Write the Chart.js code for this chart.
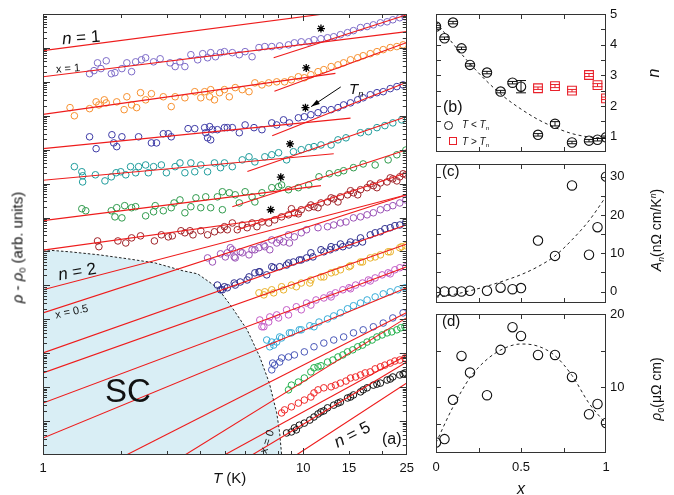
<!DOCTYPE html>
<html>
<head>
<meta charset="utf-8">
<title>Power-law analysis of the normal-state resistivity</title>
<script src="https://cdn.jsdelivr.net/npm/chart.js@4.4.1/dist/chart.umd.min.js"></script>
<style>
  body { margin: 0; background: #fff; }
  #wrap { position: relative; width: 674px; height: 495px; overflow: hidden;
          font-family: "Liberation Sans", Arial, Helvetica, sans-serif; color: #111; }
  #wrap canvas { position: absolute; top: 0; }
  .t { position: absolute; white-space: nowrap; line-height: 1; }
  .r { position: absolute; white-space: nowrap; line-height: 1; text-align: center; }
  sub, sup { font-size: 0.62em; line-height: 0; }
  sub { vertical-align: -0.3em; }
  sup { vertical-align: 0.55em; }
  .mk { position: absolute; box-sizing: border-box; }
</style>
</head>
<body>
<div id="wrap">
  <canvas id="main" width="420" height="495" style="left:0"></canvas>
  <canvas id="pb" width="254" height="495" style="left:420px"></canvas>
  <canvas id="pc" width="254" height="495" style="left:420px"></canvas>
  <canvas id="pd" width="254" height="495" style="left:420px"></canvas>

  <!-- panel (a) annotations -->
  <div class="t" style="left:62px;top:29px;font-size:17px;transform:rotate(-4deg)"><i>n</i> = 1</div>
  <div class="t" style="left:56px;top:63px;font-size:11px;transform:rotate(-4deg)">x = 1</div>
  <div class="t" style="left:58px;top:263px;font-size:17px;transform:rotate(-10deg)"><i>n</i> = 2</div>
  <div class="t" style="left:55px;top:306px;font-size:11px;transform:rotate(-12deg)">x = 0.5</div>
  <div class="t" style="left:105px;top:374px;font-size:33px">SC</div>
  <div class="r" style="left:250px;top:436px;width:34px;font-size:11px;transform:rotate(-72deg)">x = 0</div>
  <div class="r" style="left:330px;top:426px;width:44px;font-size:17px;transform:rotate(-27deg)"><i>n</i> = 5</div>
  <div class="t" style="left:382px;top:431px;font-size:16px">(a)</div>
  <div class="t" style="left:349px;top:81px;font-size:15px"><i>T</i><sub><i>n</i></sub></div>
  <div class="t" style="left:213px;top:470px;font-size:15px"><i>T</i> (K)</div>
  <div class="r" style="left:-83px;top:240px;width:200px;font-size:15px;transform:rotate(-90deg)"><i>ρ</i> - <i>ρ</i><sub>0</sub> (arb. units)</div>

  <!-- right panels -->
  <div class="t" style="left:443px;top:99px;font-size:16px">(b)</div>
  <span class="mk" style="left:444px;top:121px;width:9px;height:9px;border:1px solid #111;border-radius:50%"></span>
  <div class="t" style="left:462px;top:120px;font-size:10px"><i>T</i> &lt; <i>T</i><sub>n</sub></div>
  <span class="mk" style="left:449px;top:137px;width:8px;height:8px;border:1px solid #e8202a"></span>
  <div class="t" style="left:462px;top:137px;font-size:10px"><i>T</i> &gt; <i>T</i><sub>n</sub></div>
  <div class="t" style="left:442px;top:163px;font-size:15px">(c)</div>
  <div class="t" style="left:442px;top:313px;font-size:15px">(d)</div>
  <div class="r" style="left:634px;top:65px;width:40px;font-size:16px;transform:rotate(-90deg)"><i>n</i></div>
  <div class="r" style="left:591px;top:223px;width:130px;font-size:14px;transform:rotate(-90deg)"><i>A</i><sub><i>n</i></sub>(nΩ cm/K<sup><i>n</i></sup>)</div>
  <div class="r" style="left:606px;top:382px;width:100px;font-size:14px;transform:rotate(-90deg)"><i>ρ</i><sub>0</sub>(μΩ cm)</div>
  <div class="r" style="left:511px;top:481px;width:20px;font-size:16px"><i>x</i></div>
</div>

<script>
// Panel (a): T in K (log axis), rho - rho0 in decades (arb. units), offset per composition x.
const rhoX100 = [[1.51,11.24],[1.57,11.33],[1.62,11.56],[1.67,11.39],[1.75,11.62],[1.83,11.24],[1.89,11.27],[2.01,11.39],[2.10,11.56],[2.19,11.30],[2.27,11.59],[2.39,11.65],[2.48,11.71],[2.66,11.59],[2.82,11.68],[3.08,11.56],[3.22,11.45],[3.36,11.59],[3.51,11.45],[3.70,11.80],[3.93,11.65],[4.11,11.83],[4.29,11.71],[4.41,11.86],[4.60,11.74],[4.81,11.86],[4.98,11.89],[5.34,11.86],[5.68,11.80],[5.98,11.89],[6.36,11.74],[6.76,12.01],[7.12,12.04],[7.57,12.04],[8.12,12.06],[8.78,12.09],[9.25,12.15],[9.83,12.18],[10.5,12.18],[11.0,12.24],[11.7,12.27],[12.4,12.30],[13.1,12.33],[13.9,12.39],[14.8,12.45],[15.6,12.51],[16.6,12.60],[17.6,12.63],[18.6,12.68],[19.8,12.74],[21.0,12.77],[22.1,12.83],[23.5,12.89],[24.6,12.92]];
const rhoX095 = [[1.27,10.24],[1.32,10.00],[1.51,10.21],[1.60,10.41],[1.64,10.32],[1.72,10.47],[1.75,10.38],[1.92,10.41],[2.05,10.18],[2.10,10.56],[2.19,10.32],[2.29,10.24],[2.37,10.68],[2.48,10.47],[2.61,10.65],[2.90,10.56],[3.11,10.27],[3.22,10.56],[3.51,10.53],[3.83,10.71],[4.04,10.53],[4.18,10.71],[4.37,10.56],[4.41,10.77],[4.56,10.47],[4.77,10.68],[4.98,10.77],[5.20,10.56],[5.48,10.83],[5.83,10.77],[6.19,10.71],[6.52,10.97],[6.94,10.91],[7.37,10.97],[7.91,11.00],[8.48,11.00],[9.01,11.06],[9.58,11.15],[10.1,11.12],[10.7,11.21],[11.4,11.30],[12.0,11.36],[12.8,11.45],[13.6,11.50],[14.3,11.56],[15.2,11.65],[16.2,11.71],[17.0,11.77],[18.1,11.83],[19.2,11.89],[20.3,11.95],[21.6,12.01],[22.9,12.04],[24.2,12.09]];
const rhoX090 = [[1.51,9.38],[1.60,9.03],[1.84,9.44],[1.87,9.20],[1.92,9.09],[2.01,9.38],[2.33,9.38],[2.61,9.20],[2.73,9.20],[2.90,9.47],[3.03,9.47],[3.11,9.38],[3.61,9.62],[3.83,9.62],[4.18,9.65],[4.22,9.50],[4.29,9.35],[4.37,9.68],[4.41,9.29],[4.48,9.59],[4.68,9.59],[4.98,9.65],[5.11,9.65],[5.34,9.65],[5.68,9.50],[5.98,9.73],[6.47,9.65],[6.94,9.59],[7.57,9.79],[7.91,9.73],[8.40,9.88],[8.85,9.79],[9.58,9.94],[10.1,9.97],[10.7,10.03],[11.4,10.09],[12.0,10.18],[12.8,10.18],[13.6,10.24],[14.3,10.32],[15.2,10.38],[16.2,10.47],[17.0,10.53],[18.1,10.62],[19.2,10.68],[20.3,10.71],[21.6,10.80],[22.9,10.86],[24.2,10.91]];
const rhoX080 = [[1.32,8.50],[1.41,8.35],[1.42,8.23],[1.42,8.05],[1.59,8.26],[1.73,8.08],[1.83,8.20],[1.91,8.32],[1.99,8.35],[2.08,8.26],[2.17,8.50],[2.27,8.32],[2.33,8.50],[2.48,8.55],[2.54,8.32],[2.66,8.50],[2.85,8.55],[2.98,8.32],[3.22,8.50],[3.36,8.61],[3.51,8.32],[3.70,8.61],[3.83,8.35],[4.04,8.55],[4.29,8.35],[4.56,8.61],[4.81,8.47],[4.98,8.61],[5.34,8.50],[5.83,8.70],[6.19,8.79],[6.52,8.64],[7.12,8.79],[7.57,8.85],[8.04,8.91],[8.63,8.70],[9.17,8.94],[9.83,9.00],[10.5,9.06],[11.0,9.09],[11.7,9.14],[12.8,9.14],[13.6,9.29],[14.6,9.35],[16.6,9.50],[17.8,9.53],[19.2,9.65],[20.6,9.71],[22.1,9.79],[23.9,9.88]];
const rhoX070 = [[1.41,7.26],[1.46,7.20],[1.83,7.20],[1.89,7.02],[1.92,7.29],[2.01,6.99],[2.06,7.35],[2.19,7.29],[2.27,7.32],[2.48,7.05],[2.66,7.17],[2.70,7.35],[2.90,7.20],[3.11,7.29],[3.19,7.43],[3.36,7.52],[3.51,7.14],[3.70,7.32],[3.87,7.58],[4.04,7.29],[4.22,7.61],[4.41,7.29],[4.68,7.61],[4.89,7.23],[4.89,7.76],[5.20,7.73],[5.48,7.67],[5.68,7.43],[5.98,7.76],[6.36,7.61],[6.52,7.46],[6.94,7.73],[7.57,7.88],[8.04,7.91],[8.26,7.96],[8.78,7.82],[9.58,7.88],[10.5,7.96],[11.5,8.20],[12.6,8.29],[13.6,8.32],[14.3,8.38],[15.6,8.47],[17.0,8.58],[18.9,8.55],[21.2,8.70],[22.9,8.85],[24.8,8.99]];
const rhoX060 = [[1.62,6.31],[1.64,6.14],[1.94,6.31],[2.08,6.25],[2.19,6.40],[2.37,6.46],[2.68,6.31],[2.85,6.49],[3.03,6.43],[3.14,6.46],[3.39,6.61],[3.51,6.55],[3.67,6.61],[3.77,6.49],[4.04,6.61],[4.29,6.49],[4.56,6.58],[4.81,6.64],[4.98,6.73],[5.11,6.64],[5.34,6.84],[5.58,6.64],[5.83,6.78],[6.09,6.70],[6.36,6.84],[6.64,6.73],[6.94,6.87],[7.37,6.84],[7.77,6.93],[8.26,7.02],[8.78,7.08],[9.01,7.26],[9.25,7.14],[9.58,7.11],[9.83,7.23],[10.5,7.29],[10.7,7.37],[11.0,7.32],[11.4,7.29],[11.7,7.43],[12.4,7.46],[12.8,7.58],[13.1,7.55],[13.6,7.46],[13.9,7.61],[14.8,7.67],[15.2,7.79],[15.6,7.73],[16.2,7.67],[16.6,7.82],[17.6,7.88],[18.1,7.99],[18.6,7.94],[19.2,7.88],[19.8,8.02],[21.0,8.05],[21.6,8.17],[22.1,8.14],[22.9,8.08],[23.5,8.20],[24.2,8.29],[24.8,8.26]];
const rhoX050 = [[4.29,5.81],[4.48,5.69],[4.81,5.93],[5.02,5.84],[5.11,5.96],[5.25,6.11],[5.34,6.05],[5.43,5.84],[5.48,5.81],[5.73,5.99],[5.83,5.96],[6.19,5.90],[6.36,6.05],[6.52,6.05],[6.76,6.11],[7.06,6.19],[7.12,6.14],[7.44,6.05],[7.57,6.34],[7.91,6.25],[8.12,6.34],[8.40,6.28],[8.78,6.49],[8.85,6.25],[9.25,6.43],[9.83,6.55],[10.3,6.64],[11.4,6.70],[12.4,6.73],[13.1,6.78],[13.9,6.84],[14.6,6.87],[15.6,6.99],[16.6,7.02],[17.6,7.08],[18.6,7.14],[19.8,7.23],[21.0,7.29],[22.1,7.35],[23.5,7.43],[24.8,7.52]];
const rhoX045 = [[4.68,5.01],[4.81,4.87],[4.89,4.87],[4.98,4.96],[5.11,4.93],[5.43,5.07],[5.48,5.01],[5.73,5.10],[6.09,5.16],[6.19,5.25],[6.52,5.37],[6.76,5.40],[6.81,5.40],[7.24,5.31],[7.57,5.55],[7.70,5.52],[8.12,5.55],[8.63,5.60],[8.78,5.66],[9.17,5.69],[9.66,5.75],[9.83,5.75],[10.3,5.81],[10.7,5.96],[10.9,5.84],[11.7,6.05],[12.0,5.99],[12.7,6.05],[12.8,6.14],[13.3,6.11],[13.9,6.22],[14.2,6.14],[15.0,6.19],[15.2,6.28],[15.9,6.25],[16.6,6.40],[16.9,6.28],[18.1,6.49],[18.9,6.55],[19.8,6.58],[20.6,6.67],[21.6,6.70],[22.5,6.76],[23.5,6.78],[24.8,6.87]];
const rhoX040 = [[6.76,4.78],[7.06,4.72],[7.12,4.81],[7.57,4.87],[7.70,4.78],[8.26,4.96],[8.40,4.87],[9.01,5.01],[9.41,4.96],[9.83,5.07],[10.6,5.07],[10.7,5.16],[11.7,5.25],[12.0,5.25],[12.8,5.37],[13.3,5.40],[13.9,5.46],[15.0,5.55],[15.2,5.58],[16.6,5.69],[16.9,5.69],[18.1,5.81],[18.9,5.84],[19.8,5.90],[21.2,5.99],[21.6,5.99],[23.5,6.11],[23.9,6.14],[24.8,6.17]];
const rhoX030 = [[6.81,3.98],[6.94,3.78],[7.06,3.78],[7.37,3.92],[7.44,4.07],[7.91,4.13],[8.04,4.04],[8.63,4.28],[8.78,4.13],[9.41,4.37],[9.83,4.28],[10.3,4.48],[10.7,4.42],[11.2,4.57],[12.0,4.63],[12.7,4.72],[12.8,4.66],[13.3,4.78],[14.2,4.87],[15.0,4.93],[15.2,4.90],[15.9,5.01],[16.9,5.07],[17.8,5.16],[18.1,5.13],[18.9,5.22],[20.1,5.31],[21.2,5.37],[21.6,5.34],[22.5,5.46],[23.5,5.52],[24.8,5.55]];
const rhoX020 = [[7.24,3.39],[7.44,3.19],[7.57,3.33],[7.70,3.24],[7.91,3.33],[8.12,3.48],[8.26,3.45],[8.85,3.60],[9.01,3.60],[9.66,3.69],[9.83,3.69],[10.6,3.81],[11.0,3.78],[11.5,3.92],[12.4,4.01],[13.1,4.10],[13.9,4.19],[14.8,4.31],[15.6,4.40],[16.6,4.48],[17.6,4.57],[18.9,4.66],[20.3,4.75],[21.6,4.81],[23.1,4.87],[24.6,4.93]];
const rhoX015 = [[7.57,2.51],[7.63,2.71],[7.77,2.65],[8.12,2.74],[8.26,2.86],[8.78,2.89],[9.25,2.95],[10.1,3.04],[11.0,3.19],[12.0,3.30],[13.1,3.39],[14.3,3.48],[15.6,3.60],[17.0,3.69],[18.6,3.78],[20.3,3.89],[22.1,4.04],[24.2,4.19]];
const rhoX010 = [[8.78,1.92],[9.01,2.06],[9.58,2.15],[10.1,2.27],[10.7,2.45],[11.0,2.57],[11.4,2.60],[11.7,2.63],[12.4,2.74],[13.0,2.80],[13.6,2.89],[14.2,2.95],[14.8,3.04],[15.5,3.10],[16.2,3.19],[16.9,3.24],[17.6,3.33],[18.4,3.39],[19.2,3.48],[20.1,3.54],[21.0,3.60],[21.9,3.63],[22.9,3.69],[23.7,3.75],[24.6,3.78]];
const rhoX005 = [[8.26,1.24],[8.48,1.33],[9.01,1.42],[9.58,1.53],[10.1,1.62],[10.7,1.71],[11.0,1.83],[11.4,1.92],[12.0,1.98],[12.8,2.01],[13.3,2.06],[13.9,2.12],[14.6,2.18],[15.2,2.27],[15.9,2.30],[16.6,2.36],[17.3,2.42],[18.1,2.45],[18.9,2.54],[19.8,2.60],[20.6,2.65],[21.6,2.71],[22.5,2.77],[23.5,2.80],[24.6,2.86]];
const rhoX000 = [[8.63,0.65],[9.01,0.68],[9.25,0.80],[9.41,0.74],[9.66,0.88],[10.1,0.94],[10.6,1.03],[11.0,1.12],[11.4,1.21],[11.7,1.27],[12.0,1.30],[12.4,1.39],[13.1,1.47],[13.6,1.53],[13.9,1.56],[14.8,1.68],[15.2,1.71],[15.6,1.77],[16.6,1.86],[17.0,1.92],[17.6,1.98],[18.6,2.06],[19.2,2.09],[19.8,2.12],[21.0,2.21],[21.6,2.24],[22.1,2.30],[23.5,2.36],[24.2,2.39],[24.6,2.42]];

// Power-law fits, each [T1, v1, T2, v2].
const fitBelowTn = [[1,11.15,25,12.48],[1,10.04,13.3,11.25],[1,9.03,15.2,9.93],[1,8.10,13.1,8.88],[1,6.91,11.7,7.94],[1,6.04,9.8,7.09]];
const fitAboveTn = [[7.7,11.71,25,12.98],[7.75,10.72,25,12.16],[7.6,9.41,25,10.99],[6.1,8.36,25,9.98],[5.34,7.32,25,9.00],[5.58,6.64,25,8.32]];
const fitSingle = [[1,4.19,25,7.67],[1,3.01,25,6.79],[1,2.42,25,6.22],[1,1.53,25,5.55],[1,0.50,25,4.93],[2.09,0,25,4.20],[3.51,0,25,4.05],[4.98,0,25,2.94],[6.36,0,25,2.74]];
const guideN = [[1,11.92,25,13.32],[1,4.87,25,7.67],[9.41,0,25,2.12]]; // n = 1, 2, 5
const tnStars = [[11.7,12.57],[10.27,11.41],[10.2,10.24],[8.9,9.17],[8.2,8.19],[7.5,7.23]];
const scDome = [[1,6.05],[1.266,5.99],[1.644,5.90],[2.136,5.78],[2.70,5.66],[3.45,5.43],[3.93,5.34],[4.68,4.93],[5.25,4.42],[6.09,3.69],[6.81,2.89],[7.41,2.12],[7.91,1.24],[8.12,0.65],[8.26,0]];
const tnArrow = [[13.94,10.85],[10.73,10.27]];
const xTickVals = [1,2,3,4,5,6,7,8,9,10,15,20,25];
const xTickLabels = [1,10,15,25];

// Panels (b)-(d): versus composition x.
const xComp = [0,0.05,0.1,0.15,0.2,0.3,0.38,0.45,0.5,0.6,0.7,0.8,0.9,0.95,1];
const nBelow = [4.59,4.21,4.72,3.88,3.34,3.09,2.47,2.76,2.63,1.06,1.42,0.81,0.87,0.90,0.98];
const nBelowErr = [0.04,0.04,0.04,0.04,0.04,0.04,0.04,0.04,0.2,0.04,0.07,0.04,0.04,0.04,0.04];
const xAbove = [0.6,0.7,0.8,0.9,0.95,1];
const nAbove = [2.58,2.65,2.50,3.01,2.68,2.25];
const nAboveErr = [0.04,0.05,0.04,0.05,0.05,0.04];
const xGuide = [0,0.1,0.2,0.3,0.4,0.5,0.6,0.7,0.8,0.9,1];
const nGuide = [4.75,4.03,3.38,2.80,2.30,1.90,1.56,1.30,1.10,0.99,0.95];
const aN = [0,0,0,0,0.2,0.2,1.0,0.6,0.9,13.3,9.3,27.7,9.6,16.8,30.0];
const aGuide = [-1.5,-0.8,0.2,1.4,2.8,4.4,6.5,9.3,13.5,18.5,24.8];
const rho0 = [2.44,2.9,8.27,14.27,12.0,8.9,15.1,18.2,17.0,14.4,14.4,11.4,6.3,7.7,5.1];
const rho0Guide = [2.4,7.3,11.3,13.8,15.3,15.9,15.6,14.3,11.6,7.8,5.0];

const seriesList = [
  [rhoX100,'#7d6bc8'],[rhoX095,'#f7902f'],[rhoX090,'#3d3aa6'],[rhoX080,'#1f9c9c'],
  [rhoX070,'#2f9a4c'],[rhoX060,'#a0242a'],[rhoX050,'#9a52b6'],[rhoX045,'#2c2c8e'],
  [rhoX040,'#e9b12a'],[rhoX030,'#c35cc6'],[rhoX020,'#37acd8'],[rhoX015,'#4a58b8'],
  [rhoX010,'#21b04a'],[rhoX005,'#f02828'],[rhoX000,'#111111']
];

Chart.defaults.font.family = '"Liberation Sans", Arial, Helvetica, sans-serif';
Chart.defaults.color = '#111';

const pts = arr => arr.map(p => ({x: p[0], y: p[1]}));
const seg = s => ({x: s[0], y: s[1]});

// Inward tick marks on all four sides plus the box frame.
const frameTicks = {
  id: 'frameTicks',
  afterDatasetsDraw(chart, args, opts) {
    const {ctx, chartArea: a, scales} = chart;
    ctx.save();
    ctx.strokeStyle = '#333';
    ctx.lineWidth = 1;
    ctx.beginPath();
    (opts.x || []).forEach(t => {
      const px = Math.round(scales.x.getPixelForValue(t[0])) + 0.5;
      ctx.moveTo(px, a.bottom); ctx.lineTo(px, a.bottom - t[1]);
      ctx.moveTo(px, a.top); ctx.lineTo(px, a.top + t[1]);
    });
    (opts.y || []).forEach(t => {
      const py = Math.round(scales.y.getPixelForValue(t[0])) + 0.5;
      ctx.moveTo(a.left, py); ctx.lineTo(a.left + t[1], py);
      ctx.moveTo(a.right, py); ctx.lineTo(a.right - t[1], py);
    });
    ctx.stroke();
    ctx.strokeRect(Math.round(a.left) + 0.5, Math.round(a.top) + 0.5,
                   Math.round(a.width) - 1, Math.round(a.height) - 1);
    ctx.restore();
  }
};

// Vertical error bars with caps for datasets carrying an `errors` array.
const errorBars = {
  id: 'errorBars',
  afterDatasetsDraw(chart) {
    const {ctx, chartArea: a, scales: {x, y}} = chart;
    ctx.save();
    ctx.beginPath(); ctx.rect(a.left, a.top, a.width, a.height); ctx.clip();
    chart.data.datasets.forEach(ds => {
      if (!ds.errors) return;
      ctx.strokeStyle = ds.borderColor;
      ctx.lineWidth = 1;
      ctx.beginPath();
      ds.data.forEach((p, i) => {
        const px = x.getPixelForValue(p.x);
        const y1 = y.getPixelForValue(p.y + ds.errors[i]);
        const y2 = y.getPixelForValue(p.y - ds.errors[i]);
        ctx.moveTo(px, y1); ctx.lineTo(px, y2);
        ctx.moveTo(px - 5, y1); ctx.lineTo(px + 5, y1);
        ctx.moveTo(px - 5, y2); ctx.lineTo(px + 5, y2);
      });
      ctx.stroke();
    });
    ctx.restore();
  }
};

// Arrow pointing at the T_n star.
const arrowMark = {
  id: 'arrowMark',
  afterDatasetsDraw(chart, args, opts) {
    if (!opts.from) return;
    const {ctx, scales: {x, y}} = chart;
    const x1 = x.getPixelForValue(opts.from[0]), y1 = y.getPixelForValue(opts.from[1]);
    const x2 = x.getPixelForValue(opts.to[0]), y2 = y.getPixelForValue(opts.to[1]);
    const ang = Math.atan2(y2 - y1, x2 - x1);
    ctx.save();
    ctx.strokeStyle = '#000'; ctx.fillStyle = '#000'; ctx.lineWidth = 1;
    ctx.beginPath(); ctx.moveTo(x1, y1); ctx.lineTo(x2, y2); ctx.stroke();
    ctx.beginPath();
    ctx.moveTo(x2, y2);
    ctx.lineTo(x2 - 9 * Math.cos(ang - 0.3), y2 - 9 * Math.sin(ang - 0.3));
    ctx.lineTo(x2 - 9 * Math.cos(ang + 0.3), y2 - 9 * Math.sin(ang + 0.3));
    ctx.closePath(); ctx.fill();
    ctx.restore();
  }
};

// ---- panel (a) ----
const mainSets = [];
mainSets.push({
  type: 'line', data: pts(scDome), borderColor: '#222', borderWidth: 1, borderDash: [2.5, 2],
  pointRadius: 0, fill: 'origin', backgroundColor: '#d9eef5', tension: 0, clip: 0, order: 100
});
seriesList.forEach(([arr, col]) => {
  mainSets.push({
    type: 'scatter', data: pts(arr), borderColor: col, backgroundColor: 'rgba(0,0,0,0)',
    pointRadius: 3.3, borderWidth: 1, clip: 0, order: 50
  });
});
[...fitBelowTn, ...fitAboveTn, ...fitSingle, ...guideN].forEach(f => {
  mainSets.push({
    type: 'line', data: [seg(f), seg(f.slice(2))], borderColor: '#ee1c1c', borderWidth: 1.1,
    pointRadius: 0, fill: false, clip: 0, order: 10
  });
});
mainSets.push({
  type: 'scatter', data: pts(tnStars), pointStyle: 'star', pointRadius: 4, borderWidth: 1.3,
  borderColor: '#000', backgroundColor: '#000', clip: 0, order: 0
});

const yTicksA = [];
for (let k = 0; k < 13; k++) {
  for (let m = 1; m <= 9; m++) {
    const v = k + Math.log10(m);
    if (v > 0 && v < 13) yTicksA.push([v, m === 1 ? 7 : 4]);
  }
}

new Chart(document.getElementById('main'), {
  type: 'scatter',
  data: {datasets: mainSets},
  options: {
    responsive: false, animation: false, devicePixelRatio: 1, events: [],
    layout: {padding: {left: 0, right: 8, top: 14, bottom: 0}},
    plugins: {
      legend: {display: false}, tooltip: {enabled: false},
      filler: {drawTime: 'beforeDatasetsDraw'},
      frameTicks: {
        x: xTickVals.filter(v => v > 1 && v < 25).map(v => [v, v === 10 ? 7 : 4]),
        y: yTicksA
      },
      arrowMark: {from: tnArrow[0], to: tnArrow[1]}
    },
    scales: {
      x: {
        type: 'logarithmic', min: 1, max: 25,
        afterBuildTicks: s => { s.ticks = xTickVals.map(v => ({value: v})); },
        ticks: {
          autoSkip: false, maxRotation: 0, padding: 6, font: {size: 13}, color: '#111',
          callback: v => xTickLabels.includes(v) ? String(v) : ''
        },
        grid: {display: false, drawTicks: false}, border: {display: false},
        afterFit: s => { s.height = 40; }
      },
      y: {
        type: 'linear', min: 0, max: 13,
        ticks: {display: false}, grid: {display: false, drawTicks: false}, border: {display: false},
        afterFit: s => { s.width = 43; }
      }
    }
  },
  plugins: [frameTicks, errorBars, arrowMark]
});

// ---- panels (b), (c), (d) ----
const xFrame = [[0.25, 5], [0.5, 5], [0.75, 5]];
function panel(id, padTop, padBottom, yMin, yMax, yLabels, yFrame, datasets, withX) {
  return new Chart(document.getElementById(id), {
    type: 'scatter',
    data: {datasets},
    options: {
      responsive: false, animation: false, devicePixelRatio: 1, events: [],
      layout: {padding: {left: 16, right: 0, top: padTop, bottom: padBottom}},
      plugins: {legend: {display: false}, tooltip: {enabled: false}, frameTicks: {x: xFrame, y: yFrame}},
      scales: {
        x: {
          type: 'linear', min: 0, max: 1, display: withX,
          afterBuildTicks: s => { s.ticks = [0, 0.5, 1].map(v => ({value: v})); },
          ticks: {maxRotation: 0, padding: 7, font: {size: 13}, color: '#111', callback: v => String(v)},
          grid: {display: false, drawTicks: false}, border: {display: false},
          afterFit: s => { s.height = withX ? 42 : 0; }
        },
        y: {
          type: 'linear', position: 'right', min: yMin, max: yMax,
          afterBuildTicks: s => { s.ticks = yLabels.map(v => ({value: v})); },
          ticks: {padding: 4, font: {size: 13}, color: '#111'},
          grid: {display: false, drawTicks: false}, border: {display: false},
          afterFit: s => { s.width = 68; }
        }
      }
    },
    plugins: [frameTicks, errorBars]
  });
}
const circleSet = (ys, extra) => Object.assign({
  type: 'scatter', data: xComp.map((x, i) => ({x, y: ys[i]})), borderColor: '#111',
  backgroundColor: 'rgba(0,0,0,0)', pointRadius: 4.7, borderWidth: 1.1, clip: 0, order: 1
}, extra || {});
const guideSet = ys => ({
  type: 'line', data: xGuide.map((x, i) => ({x, y: ys[i]})), borderColor: '#222', borderWidth: 1,
  borderDash: [3, 3], pointRadius: 0, fill: false, cubicInterpolationMode: 'monotone', clip: 0, order: 5
});

panel('pb', 14, 343, 0.5, 5, [1, 2, 3, 4, 5],
  [1, 1.5, 2, 2.5, 3, 3.5, 4, 4.5].map(v => [v, 5]),
  [
    guideSet(nGuide),
    circleSet(nBelow, {errors: nBelowErr}),
    {type: 'scatter', data: xAbove.map((x, i) => ({x, y: nAbove[i]})), errors: nAboveErr,
     pointStyle: 'rect', pointRadius: 6.2, borderWidth: 1.1, borderColor: '#e8202a',
     backgroundColor: 'rgba(0,0,0,0)', clip: 0, order: 1}
  ], false);

panel('pc', 164, 192, -3, 33.3, [0, 10, 20, 30],
  [0, 5, 10, 15, 20, 25, 30].map(v => [v, 5]),
  [guideSet(aGuide), circleSet(aN)], false);

panel('pd', 314, 0, 1, 20, [10, 20],
  [5, 10, 15].map(v => [v, 5]),
  [guideSet(rho0Guide), circleSet(rho0)], true);
</script>
</body>
</html>
